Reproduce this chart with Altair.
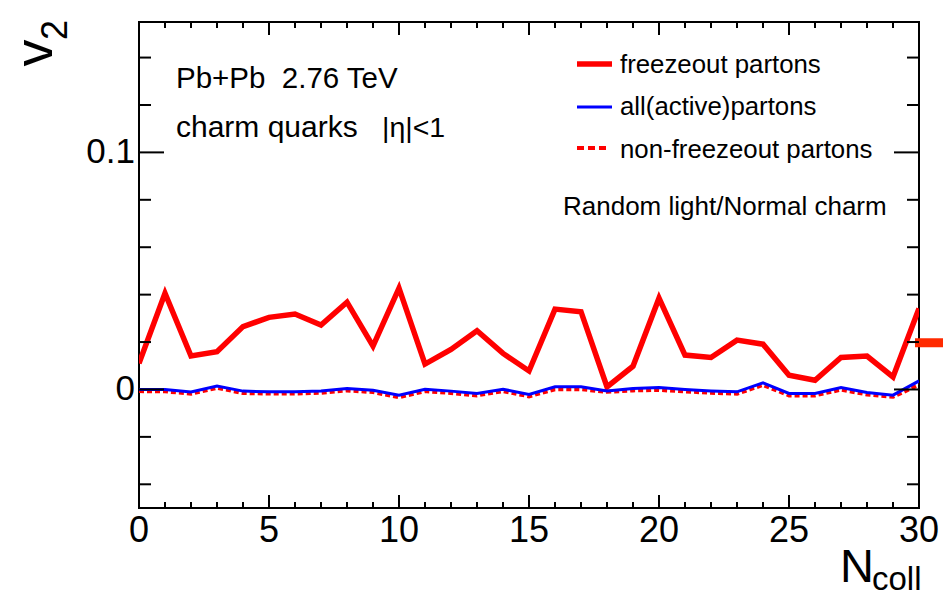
import altair as alt
import pandas as pd

# ---------------- data ----------------
ncoll = list(range(31))
freezeout = [0.0110, 0.0406, 0.0141, 0.0159, 0.0265, 0.0304, 0.0318, 0.0272, 0.0368, 0.0183,
             0.0427, 0.0107, 0.0169, 0.0248, 0.0152, 0.0078, 0.0339, 0.0328, 0.0011, 0.0098,
             0.0385, 0.0145, 0.0135, 0.0208, 0.0191, 0.0060, 0.0039, 0.0135, 0.0141, 0.0053,
             0.0342]
all_active = [0.0000, 0.0000, -0.0011, 0.0014, -0.0007, -0.0010, -0.0010, -0.0006, 0.0004, -0.0003,
              -0.0024, 0.0001, -0.0007, -0.0017, 0.0001, -0.0021, 0.0011, 0.0011, -0.0006, 0.0004,
              0.0008, 0.0000, -0.0006, -0.0010, 0.0028, -0.0017, -0.0017, 0.0008, -0.0013, -0.0024,
              0.0036]
non_freezeout = [-0.0007, -0.0008, -0.0018, 0.0007, -0.0015, -0.0017, -0.0017, -0.0014, -0.0004, -0.0011,
                 -0.0033, -0.0007, -0.0015, -0.0025, -0.0007, -0.0029, 0.0001, 0.0001, -0.0010, -0.0004,
                 -0.0002, -0.0008, -0.0014, -0.0018, 0.0019, -0.0025, -0.0025, -0.0001, -0.0021, -0.0031,
                 0.0020]
marker_value = [0.0197]

x_major = [0, 5, 10, 15, 20, 25, 30]
x_minor = [v for v in range(31) if v % 5 != 0]
y_major = [0.0, 0.1]
y_minor = [-0.04, -0.02, 0.02, 0.04, 0.06, 0.08, 0.12, 0.14]
x_labels = ["0", "5", "10", "15", "20", "25", "30"]
y_labels = ["0", "0.1"]

# ---------------- layout ----------------
W, H = 780, 486
FONT = "Liberation Sans"

df = pd.DataFrame({"ncoll": ncoll, "freeze": freezeout, "all": all_active, "non": non_freezeout})

xs = alt.Scale(domain=[0, 30], nice=False, zero=False)
ys = alt.Scale(domain=[-0.05, 0.155], nice=False, zero=False)

base = alt.Chart(df)

red_line = base.mark_line(color="#ff0000", strokeWidth=5.5, clip=True).encode(
    x=alt.X("ncoll:Q", scale=xs, axis=None),
    y=alt.Y("freeze:Q", scale=ys, axis=None),
)
dotted_line = base.mark_line(color="#ff0000", strokeWidth=4, strokeDash=[5, 3], clip=True).encode(
    x=alt.X("ncoll:Q", scale=xs, axis=None),
    y=alt.Y("non:Q", scale=ys, axis=None),
)
blue_line = base.mark_line(color="#0000ff", strokeWidth=3, clip=True).encode(
    x=alt.X("ncoll:Q", scale=xs, axis=None),
    y=alt.Y("all:Q", scale=ys, axis=None),
)

marker = alt.Chart(pd.DataFrame({"v": marker_value})).mark_rule(
    color="#ff2a00", strokeWidth=9, clip=False).encode(
    y=alt.Y("v:Q", scale=ys, axis=None), x=alt.value(W - 4), x2=alt.value(W + 30))


def yticks(vals, length):
    d = alt.Chart(pd.DataFrame({"t": vals}))
    left = d.mark_rule(color="black", strokeWidth=2).encode(
        y=alt.Y("t:Q", scale=ys, axis=None), x=alt.value(0), x2=alt.value(length))
    right = d.mark_rule(color="black", strokeWidth=2).encode(
        y=alt.Y("t:Q", scale=ys, axis=None), x=alt.value(W - length), x2=alt.value(W))
    return [left, right]


def xticks(vals, length):
    d = alt.Chart(pd.DataFrame({"t": vals}))
    bottom = d.mark_rule(color="black", strokeWidth=2).encode(
        x=alt.X("t:Q", scale=xs, axis=None), y=alt.value(H - length), y2=alt.value(H))
    top = d.mark_rule(color="black", strokeWidth=2).encode(
        x=alt.X("t:Q", scale=xs, axis=None), y=alt.value(0), y2=alt.value(length))
    return [bottom, top]


x_lab = alt.Chart(pd.DataFrame({"t": x_major, "lab": x_labels})).mark_text(
    fontSize=36, font=FONT, color="black", align="center", baseline="alphabetic").encode(
    x=alt.X("t:Q", scale=xs, axis=None), y=alt.value(H + 34), text="lab:N")
y_lab = alt.Chart(pd.DataFrame({"t": y_major, "lab": y_labels})).mark_text(
    fontSize=35, font=FONT, color="black", align="right", baseline="middle").encode(
    y=alt.Y("t:Q", scale=ys, axis=None), x=alt.value(-4), text="lab:N")

one = alt.Data(values=[{"a": 0}])


def text(label, x, y, size, angle=0, align="left", baseline="alphabetic", color="black"):
    return alt.Chart(one).mark_text(
        text=label, fontSize=size, font=FONT, align=align, baseline=baseline,
        angle=angle, color=color).encode(x=alt.value(x), y=alt.value(y))


def legend_rule(x1, x2, y, color, width, dash=None):
    kw = dict(color=color, strokeWidth=width)
    if dash:
        kw["strokeDash"] = dash
    return alt.Chart(one).mark_rule(**kw).encode(
        x=alt.value(x1), x2=alt.value(x2), y=alt.value(y))


layers = [red_line, dotted_line, blue_line, marker]
layers += yticks(y_major, 25) + yticks(y_minor, 12)
layers += xticks(x_major, 13) + xticks(x_minor, 6)
layers += [x_lab, y_lab]
layers += [
    text("Pb+Pb\u00a0 2.76 TeV", 37, 66, 29.5),
    text("charm quarks", 37, 115, 30),
    text("|η|<1", 243, 115, 28.5),
    legend_rule(438, 473, 42, "#ff0000", 5.5),
    legend_rule(438, 473, 85, "#0000ff", 3),
    legend_rule(438, 470, 126, "#ff0000", 4, [7, 4]),
    text("freezeout partons", 481, 51, 25.8),
    text("all(active)partons", 481, 93, 25.8),
    text("non-freezeout partons", 481, 136, 25.8),
    text("Random light/Normal charm", 424, 193, 26),
    text("v", -87, 31, 54, angle=270, align="center"),
    text("2", -72, 8, 36, angle=270, align="center"),
    text("N", 701, 560, 47),
    text("coll", 733, 568, 33),
]

chart = alt.layer(*layers).properties(
    width=W, height=H,
    autosize=alt.AutoSizeParams(type="none"),
    padding={"left": 139, "top": 22, "right": 24, "bottom": 94},
).configure_view(stroke="black", strokeWidth=2)

chart.save("out.html", embed_options={"renderer": "svg", "actions": False})
